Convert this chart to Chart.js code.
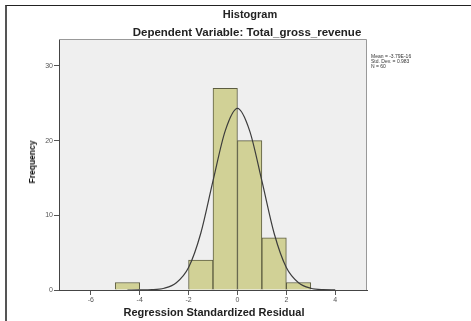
<!DOCTYPE html>
<html>
<head>
<meta charset="utf-8">
<script src="https://cdn.jsdelivr.net/npm/chart.js@4.4.0/dist/chart.umd.min.js"></script>
<style>
  html, body { margin: 0; padding: 0; background: #fff; }
  #wrap { position: relative; width: 471px; height: 321px; overflow: hidden; font-family: "Liberation Sans", Arial, sans-serif; }
  #frame { position: absolute; left: 5px; top: 5px; width: 470px; height: 330px; border-left: 2px solid #555; border-top: 1px solid #222; }
  canvas { position: absolute; left: 0; top: 0; }
  .t { position: absolute; white-space: nowrap; color: #222; font-weight: bold; }
</style>
</head>
<body>
<div id="wrap">
  <div id="frame"></div>
  <canvas id="c" width="471" height="321"></canvas>
  <div class="t" style="left:250px; top:8px; font-size:11px; transform:translateX(-50%);">Histogram</div>
  <div class="t" style="left:247px; top:26px; font-size:11.5px; transform:translateX(-50%);">Dependent Variable: Total_gross_revenue</div>
  <div class="t" style="left:214px; top:306px; font-size:11px; transform:translateX(-50%);">Regression Standardized Residual</div>
  <div class="t" style="left:32px; top:162px; font-size:8.5px; color:#111; transform:translate(-50%,-50%) rotate(-90deg);">Frequency</div>
</div>
<script>
// Histogram bins (bin centers) and frequencies
const binCenters = [-4.5, -1.5, -0.5, 0.5, 1.5, 2.5];
const frequencies = [1, 4, 27, 20, 7, 1];
// Normal curve points
const curveX = [-4.5, -4, -3.5, -3, -2.5, -2, -1.5, -1, -0.5, 0, 0.5, 1, 1.5, 2, 2.5, 3, 3.5, 4];
const curveY = [0, 0.01, 0.04, 0.23, 0.96, 3.0, 7.6, 14.6, 21.3, 24.3, 21.3, 14.6, 7.6, 3.0, 0.96, 0.23, 0.04, 0.01];
// Tick labels
const xTicks = [-6, -4, -2, 0, 2, 4];
const yTicks = [0, 10, 20, 30];
// Stats legend
const statsLines = ["Mean = -3.79E-16", "Std. Dev. = 0.983", "N = 60"];

const bgPlugin = {
  id: 'bg',
  beforeDraw(chart) {
    const a = chart.chartArea, ctx = chart.ctx;
    ctx.save();
    ctx.fillStyle = '#efefef';
    ctx.fillRect(a.left, a.top, a.right - a.left, a.bottom - a.top);
    ctx.restore();
  },
  afterDraw(chart) {
    const a = chart.chartArea, ctx = chart.ctx;
    ctx.save();
    ctx.strokeStyle = '#999';
    ctx.lineWidth = 1;
    ctx.beginPath();
    ctx.moveTo(a.left, a.top + 0.5);
    ctx.lineTo(a.right - 0.5, a.top + 0.5);
    ctx.lineTo(a.right - 0.5, a.bottom);
    ctx.stroke();
    ctx.fillStyle = '#333';
    ctx.font = '5px "Liberation Sans", Arial, sans-serif';
    ctx.textBaseline = 'middle';
    statsLines.forEach((s, i) => ctx.fillText(s, a.right + 4, 57 + i * 5));
    ctx.restore();
  }
};

new Chart(document.getElementById('c'), {
  type: 'bar',
  data: {
    datasets: [
      {
        type: 'line',
        data: curveX.map((x, i) => ({ x: x, y: curveY[i] })),
        borderColor: '#3c3c3c',
        borderWidth: 1.2,
        pointRadius: 0,
        cubicInterpolationMode: 'monotone',
        fill: false,
        order: 0
      },
      {
        type: 'bar',
        data: binCenters.map((x, i) => ({ x: x, y: frequencies[i] })),
        backgroundColor: '#d1d196',
        borderColor: '#5c5c40',
        borderWidth: 1,
        barPercentage: 1,
        categoryPercentage: 1,
        order: 1
      }
    ]
  },
  options: {
    responsive: false,
    animation: false,
    events: [],
    layout: { padding: { top: 39, right: 104, left: 0, bottom: 0 } },
    plugins: { legend: { display: false }, tooltip: { enabled: false }, title: { display: false } },
    scales: {
      x: {
        type: 'linear',
        min: -7.3,
        max: 5.3,
        offset: false,
        afterFit(s) { s.height = 31; },
        afterBuildTicks(s) { s.ticks = xTicks.map(v => ({ value: v })); },
        grid: { display: true, drawOnChartArea: false, offset: false, tickLength: 5, color: '#555' },
        border: { display: true, color: '#444', width: 1 },
        ticks: { color: '#555', font: { size: 7, family: '"Liberation Sans", Arial, sans-serif' }, padding: 1, maxRotation: 0 }
      },
      y: {
        min: 0,
        max: 33.6,
        afterFit(s) { s.width = 59; },
        afterBuildTicks(s) { s.ticks = yTicks.map(v => ({ value: v })); },
        grid: { display: true, drawOnChartArea: false, tickLength: 5, color: '#555' },
        border: { display: true, color: '#444', width: 1 },
        ticks: { color: '#555', font: { size: 7, family: '"Liberation Sans", Arial, sans-serif' }, padding: 1 }
      }
    }
  },
  plugins: [bgPlugin]
});
</script>
</body>
</html>
